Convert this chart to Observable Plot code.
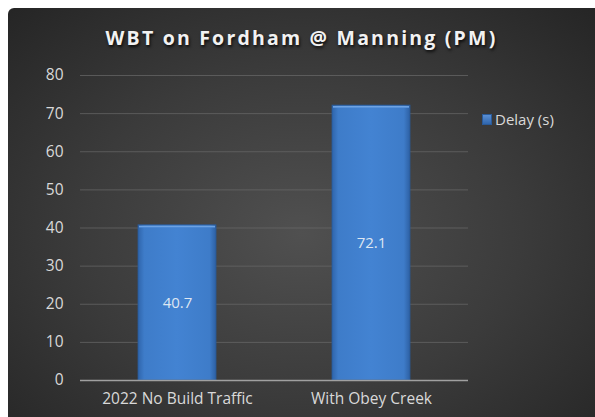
<!DOCTYPE html>
<html>
<head>
<meta charset="utf-8">
<script src="https://cdn.jsdelivr.net/npm/d3@7"></script>
<script src="https://cdn.jsdelivr.net/npm/@observablehq/plot@0.6"></script>
<style>
  html, body { margin: 0; padding: 0; background: #ffffff; }
  #frame {
    position: absolute; left: 8px; top: 8px; width: 587px; height: 409px;
    background: radial-gradient(ellipse 75% 80% at 50% 55%, #505050 0%, #3b3b3b 50%, #232323 100%);
    border-top-left-radius: 6px;
    overflow: hidden;
    font-family: "Open Sans", sans-serif;
  }
  #title {
    position: absolute; left: 0; top: 8px; width: 587px; height: 44px;
    text-align: center; color: #f2f2f2; font-weight: bold; font-size: 19.5px;
    letter-spacing: 2.2px; line-height: 44px;
    text-shadow: 1px 2px 3px rgba(0,0,0,0.8);
  }
  #chart { position: absolute; left: 0; top: 50px; }
  #legend {
    position: absolute; left: 474px; top: 101px; color: #d9d9d9; font-size: 15px;
    display: flex; align-items: center;
  }
  #legend .sw {
    width: 8px; height: 9px; margin-right: 3px;
    background: linear-gradient(#5a8fd4, #2f66ad);
    border: 0.5px solid #2a5a98;
  }
</style>
</head>
<body>
<div id="frame">
  <div id="title">WBT on Fordham @ Manning (PM)</div>
  <div id="chart"></div>
  <div id="legend"><span class="sw"></span><span>Delay (s)</span></div>
</div>
<script>
const categories = ["2022 No Build Traffic", "With Obey Creek"];
const delays = [40.7, 72.1];
const yTicks = [0, 10, 20, 30, 40, 50, 60, 70, 80];
const seriesName = "Delay (s)";

const data = categories.map((c, i) => ({category: c, value: delays[i]}));

const plot = Plot.plot({
  width: 587,
  height: 359,
  marginTop: 17,
  marginBottom: 37,
  marginLeft: 72,
  marginRight: 127,
  style: {background: "transparent", fontFamily: "Open Sans, sans-serif", fontSize: "15px", color: "#d9d9d9"},
  x: {domain: categories, paddingInner: 0.6, paddingOuter: 0.3, label: null, tickSize: 0, tickPadding: 10},
  y: {domain: [0, 80], ticks: yTicks, label: null, tickSize: 0, tickPadding: 17},
  marks: [
    Plot.gridY(yTicks.filter(d => d > 0), {stroke: "#6a6a6a", strokeOpacity: 0.7, strokeWidth: 1}),
    Plot.barY(data, {x: "category", y: "value", fill: "url(#barGrad)", stroke: "#2a5a98", strokeWidth: 0.8}),
    Plot.barY(data, {x: "category", y1: d => d.value, y2: d => d.value - 1.0, fill: "url(#bevelGrad)", inset: 1}),
    Plot.ruleY([0], {stroke: "#a0a0a0", strokeWidth: 1.5}),
    Plot.text(data, {x: "category", y: d => d.value / 2, text: d => d.value.toFixed(1), fill: "#dde6f2", fontSize: 15}),
    Plot.axisY({ticks: yTicks, tickSize: 0, tickPadding: 17, fill: "#d9d9d9", fontSize: 15.5}),
    Plot.axisX({tickSize: 0, tickPadding: 12, fill: "#d9d9d9", fontSize: 15.5})
  ]
});

const ns = "http://www.w3.org/2000/svg";
const defs = document.createElementNS(ns, "defs");
defs.innerHTML = `
  <linearGradient id="barGrad" x1="0" x2="1" y1="0" y2="0">
    <stop offset="0" stop-color="#2f65ab"/>
    <stop offset="0.08" stop-color="#3e7cc9"/>
    <stop offset="0.5" stop-color="#4383d2"/>
    <stop offset="0.92" stop-color="#3e7cc9"/>
    <stop offset="1" stop-color="#2d60a3"/>
  </linearGradient>
  <linearGradient id="bevelGrad" x1="0" x2="0" y1="0" y2="1">
    <stop offset="0" stop-color="#7fb0ea"/>
    <stop offset="1" stop-color="#4d8ad6"/>
  </linearGradient>`;
plot.insertBefore(defs, plot.firstChild);
document.getElementById("chart").appendChild(plot);
</script>
</body>
</html>
